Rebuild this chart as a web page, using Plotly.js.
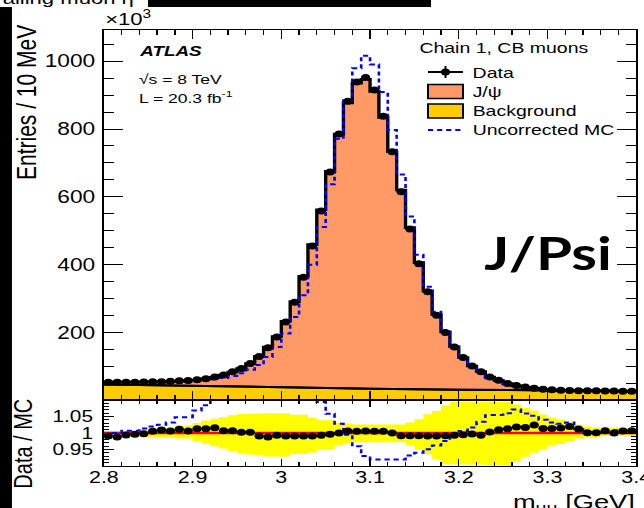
<!DOCTYPE html>
<html>
<head>
<meta charset="utf-8">
<script src="https://cdn.plot.ly/plotly-3.0.1.min.js"></script>
<style>
html,body{margin:0;padding:0;background:#fff;overflow:hidden;width:644px;height:508px;}
#wrap{width:496px;height:508px;transform:scaleX(1.29839);transform-origin:0 0;}
#chart{width:496px;height:508px;}
</style>
</head>
<body>
<div id="wrap"><div id="chart"></div></div>
<script>
// ---------------- data (60 bins of 10 MeV, 2.80 - 3.40 GeV) ----------------
const BIN_LOW = 2.80, BIN_WIDTH = 0.01, BIN_HIGH = 3.40;
const yTickVals = [200, 400, 600, 800, 1000];
const ratioTickVals = [0.95, 1, 1.05];
const ratioTickText = ['0.95', '1', '1.05'];

// data (entries / 10 MeV, in units of 10^3)
const dataCounts = [53.4,53.0,53.0,53.6,54.0,54.5,55.0,56.0,57.5,58.5,
  61.0,64.0,69.0,75.0,84.0,94.0,108.6,129.0,155.0,187.0,
  231.0,289.0,363.0,455.0,558.0,673.0,785.0,882.0,939.0,952.0,
  915.0,838.0,733.0,615.0,505.0,403.0,320.0,251.0,200.0,157.0,
  126.0,101.0,84.0,69.0,59.0,50.0,43.5,39.5,36.0,33.0,
  31.0,30.0,29.0,28.5,28.0,28.0,27.5,27.5,27.0,27.0];
// J/psi + background MC (stack top)
const mcTotal = [53.9,53.6,53.3,53.8,54.1,54.2,54.5,55.7,56.9,58.1,
  60.2,63.2,67.9,74.5,83.4,93.8,108.4,130,156.8,188.3,
  233,291,366,459,562,675,785,877,935,947,
  911,834,733,620,509,406,322,253,202,158,
  126.5,101.3,84.6,68.7,58.4,49.4,42.7,38.8,35.2,32.5,
  30.5,29.5,28.4,28.2,28,28,27.3,27.5,26.8,26.8];
// uncorrected MC
const uncorrMC = [53.5,53,52.6,53.2,53.2,53.4,53.6,54.3,54.9,55.8,
  57.1,59,62,66,72,80,90,104,128,157,
  197,246,310,400,511,637,771,885,979,1016,
  990,909,797,666,542,429,335,261,205,158,
  125,99.5,81,65.5,56,47,40.6,37.2,34.2,31.8,
  30,29.2,28,28.2,27.9,27.9,27.3,27.3,26.8,26.8];
// background curve (read at 0.1 GeV steps)
const bkgMass = [2.8, 2.9, 3.0, 3.1, 3.2, 3.3, 3.4];
const bkgCounts = [47, 42.5, 38.5, 34.5, 31.5, 29.5, 27];

// ratio panel
const ratioData = [0.991,0.988,0.994,0.996,0.998,1.005,1.009,1.006,1.011,1.006,
  1.013,1.013,1.016,1.007,1.007,1.002,1.002,0.991,0.988,0.993,
  0.991,0.991,0.991,0.991,0.993,0.996,1.0,1.006,1.005,1.006,
  1.005,1.005,1.0,0.992,0.992,0.992,0.991,0.991,0.992,0.993,
  0.995,0.997,0.993,1.003,1.01,1.013,1.018,1.017,1.024,1.014,
  1.014,1.015,1.02,1.012,1.001,1.001,1.007,1.0,1.006,1.007];
const ratioErr = 0.003;
const ratioUncorr = [0.997,1.0,1.007,1.007,1.014,1.02,1.025,1.032,1.048,1.048,
  1.068,1.084,1.11,1.13,1.16,1.17,1.2,1.24,1.21,1.19,
  1.17,1.17,1.17,1.14,1.094,1.058,1.028,0.995,0.96,0.93,
  0.92,0.92,0.92,0.92,0.932,0.94,0.951,0.962,0.976,0.993,
  1.006,1.017,1.034,1.054,1.055,1.06,1.071,1.059,1.052,1.04,
  1.032,1.028,1.032,1.012,1.003,1.003,1.008,1.008,1.008,1.008];
const bandUpper = [1.006,1.006,1.006,1.006,1.01,1.01,1.016,1.016,1.023,1.023,
  1.03,1.038,1.043,1.048,1.054,1.057,1.059,1.059,1.06,1.06,
  1.06,1.055,1.055,1.046,1.039,1.039,1.032,1.029,1.026,1.026,
  1.026,1.026,1.026,1.026,1.032,1.042,1.057,1.067,1.084,1.094,
  1.094,1.094,1.094,1.094,1.094,1.094,1.086,1.076,1.068,1.056,
  1.047,1.04,1.033,1.025,1.02,1.017,1.015,1.015,1.015,1.015];
const bandLower = [0.99,0.99,0.99,0.99,0.988,0.988,0.986,0.986,0.983,0.983,
  0.976,0.968,0.96,0.953,0.945,0.939,0.935,0.933,0.929,0.929,
  0.929,0.936,0.936,0.941,0.951,0.951,0.962,0.969,0.972,0.972,
  0.972,0.972,0.972,0.972,0.962,0.951,0.936,0.921,0.905,0.903,
  0.903,0.903,0.903,0.903,0.903,0.903,0.915,0.928,0.94,0.951,
  0.962,0.967,0.975,0.983,0.986,0.988,0.992,0.992,0.992,0.992];
const unityLine = [1, 1];

// ---------------- helpers ----------------
const binCenters = dataCounts.map((_, i) => BIN_LOW + (i + 0.5) * BIN_WIDTH);
function stepPath(vals) {
  const xs = [], ys = [];
  vals.forEach((v, i) => {
    const lo = BIN_LOW + i * BIN_WIDTH;
    xs.push(lo, lo + BIN_WIDTH); ys.push(v, v);
  });
  return {x: xs, y: ys};
}
const FONT = 'Liberation Sans, Arial, Helvetica, sans-serif';
// map reference-image pixel coordinates to paper coordinates
function px(X) { return (X - 103.9) / 532.3; }
function py(Y) { return 1 - (Y - 30) / 436; }

const mcStep = stepPath(mcTotal);
const unStep = stepPath(uncorrMC);
const ruStep = stepPath(ratioUncorr);
const upStep = stepPath(bandUpper);
const loStep = stepPath(bandLower);
const bandX = upStep.x.concat(loStep.x.slice().reverse());
const bandY = upStep.y.concat(loStep.y.slice().reverse());

const traces = [
  {x: bkgMass, y: bkgCounts, mode: 'lines', fill: 'tozeroy', fillcolor: '#ffcc00',
   line: {color: 'black', width: 2}, xaxis: 'x', yaxis: 'y', hoverinfo: 'skip'},
  {x: mcStep.x, y: mcStep.y, mode: 'lines', fill: 'tonexty', fillcolor: '#ff9966',
   line: {color: 'black', width: 2.6}, xaxis: 'x', yaxis: 'y', hoverinfo: 'skip'},
  {x: bkgMass, y: bkgCounts, mode: 'lines', line: {color: 'black', width: 2},
   xaxis: 'x', yaxis: 'y', hoverinfo: 'skip'},
  {x: unStep.x, y: unStep.y, mode: 'lines', line: {color: '#0000ff', width: 2, dash: '4px,3px'},
   xaxis: 'x', yaxis: 'y', hoverinfo: 'skip'},
  {x: binCenters, y: dataCounts, mode: 'markers', marker: {color: 'black', size: 7},
   error_x: {type: 'constant', value: BIN_WIDTH / 2, width: 0, thickness: 1.5, color: 'black'},
   xaxis: 'x', yaxis: 'y', hoverinfo: 'skip'},
  // ratio panel
  {x: bandX, y: bandY, mode: 'lines', fill: 'toself', fillcolor: '#ffff00',
   line: {width: 0, color: '#ffff00'}, xaxis: 'x2', yaxis: 'y2', hoverinfo: 'skip'},
  {x: [BIN_LOW, BIN_HIGH], y: unityLine, mode: 'lines', line: {color: '#ff0000', width: 2.5},
   xaxis: 'x2', yaxis: 'y2', hoverinfo: 'skip'},
  {x: ruStep.x, y: ruStep.y, mode: 'lines', line: {color: '#0000ff', width: 2, dash: '4px,3px'},
   xaxis: 'x2', yaxis: 'y2', hoverinfo: 'skip'},
  {x: binCenters, y: ratioData, mode: 'markers', marker: {color: 'black', size: 7},
   error_x: {type: 'constant', value: BIN_WIDTH / 2, width: 0, thickness: 1.5, color: 'black'},
   error_y: {type: 'constant', value: ratioErr, width: 0, thickness: 1.5, color: 'black'},
   xaxis: 'x2', yaxis: 'y2', hoverinfo: 'skip'}
];

const SPLIT = 66 / 436;
const axisCommon = {showline: true, linecolor: 'black', linewidth: 1.2, mirror: 'allticks',
  showgrid: false, zeroline: false, tickcolor: 'black', ticks: 'inside'};

function txt(text, X, Y, size, xa, extra) {
  return Object.assign({text: text, x: px(X), y: py(Y), xref: 'paper', yref: 'paper',
    showarrow: false, xanchor: xa || 'left', yanchor: 'middle',
    font: {family: FONT, size: size, color: 'black'}}, extra || {});
}

const annotations = [
  txt('ailing muon η', 0, -1, 17, 'left'),
  txt('×10<sup>3</sup>', 102, 18, 17, 'left'),
  txt('Entries / 10 MeV', 26, 102, 21, 'center', {textangle: -90}),
  txt('Data / MC', 23, 444, 20, 'center', {textangle: -90}),
  txt('<b><i>ATLAS</i></b>', 136, 51, 14.5, 'left'),
  txt('√s = 8 TeV', 136, 79, 13.5, 'left'),
  txt('L = 20.3 fb<sup>-1</sup>', 136, 97, 13.5, 'left'),
  txt('Chain 1, CB muons', 417, 48, 15, 'left'),
  txt('Data', 470, 72, 15, 'left'),
  txt('J/ψ', 470, 91, 15, 'left'),
  txt('Background', 470, 111, 15, 'left'),
  txt('Uncorrected MC', 470, 129.5, 15, 'left'),
  txt('<b>J/Psi</b>', 548, 253, 45, 'center', {font: {family: 'Lato, Carlito, sans-serif', size: 45, color: 'black'}}),
  txt('m<sub>μμ</sub> [GeV]', 638, 503, 21, 'right')
];

function rectPx(X0, Y0, X1, Y1, fill, line) {
  return {type: 'rect', xref: 'paper', yref: 'paper', x0: px(X0), x1: px(X1), y0: py(Y1), y1: py(Y0),
    fillcolor: fill, line: line || {width: 0}};
}
function linePx(X0, Y0, X1, Y1, line) {
  return {type: 'line', xref: 'paper', yref: 'paper', x0: px(X0), x1: px(X1), y0: py(Y0), y1: py(Y1), line: line};
}
const shapes = [
  rectPx(148, -2, 431, 7, 'black'),
  rectPx(-2, 7, 12, 510, 'black'),
  // legend symbols
  linePx(428, 72, 463, 72, {color: 'black', width: 2}),
  linePx(445.5, 66, 445.5, 78, {color: 'black', width: 1.5}),
  {type: 'circle', xref: 'paper', yref: 'paper', x0: px(441), x1: px(450), y0: py(75.5), y1: py(68.5),
   fillcolor: 'black', line: {color: 'black', width: 0}},
  rectPx(428, 84.5, 463, 98.5, '#ff9966', {color: 'black', width: 1.5}),
  rectPx(428, 104, 463, 118, '#ffcc00', {color: 'black', width: 1.5}),
  linePx(428, 130, 463, 130, {color: '#0000ff', width: 2, dash: '4px,3px'})
];

const layout = {
  width: 496, height: 508,
  margin: {l: 80, r: 6, t: 30, b: 42, pad: 0},
  paper_bgcolor: 'white', plot_bgcolor: 'white', showlegend: false,
  font: {family: FONT, color: 'black'},
  xaxis: Object.assign({}, axisCommon, {anchor: 'y', domain: [0, 1], range: [BIN_LOW, BIN_HIGH],
    tick0: BIN_LOW, dtick: 0.1, ticklen: 9, showticklabels: false,
    minor: {ticks: 'inside', dtick: 0.02, ticklen: 5, tickcolor: 'black'}}),
  yaxis: Object.assign({}, axisCommon, {anchor: 'x', domain: [SPLIT, 1], range: [1, 1092],
    tickmode: 'array', tickvals: yTickVals, ticklen: 15, tickfont: {size: 17.5},
    ticklabelstandoff: 2,
    minor: {ticks: 'inside', tick0: 0, dtick: 50, ticklen: 7.5, tickcolor: 'black'}}),
  xaxis2: Object.assign({}, axisCommon, {anchor: 'y2', domain: [0, 1], range: [BIN_LOW, BIN_HIGH],
    tick0: BIN_LOW, dtick: 0.1, ticklen: 7, tickfont: {size: 16.5},
    ticklabeloverflow: 'allow', ticklabelstandoff: -4,
    minor: {ticks: 'inside', dtick: 0.02, ticklen: 4, tickcolor: 'black'}}),
  yaxis2: Object.assign({}, axisCommon, {anchor: 'x2', domain: [0, SPLIT], range: [0.9, 1.1],
    tickmode: 'array', tickvals: ratioTickVals, ticktext: ratioTickText, ticklen: 7.5,
    tickfont: {size: 16}, ticklabelstandoff: 4,
    minor: {ticks: 'inside', tick0: 0.9, dtick: 0.01, ticklen: 4, tickcolor: 'black'}}),
  annotations: annotations,
  shapes: shapes
};

Plotly.newPlot('chart', traces, layout, {staticPlot: true, displayModeBar: false});
</script>
</body>
</html>
